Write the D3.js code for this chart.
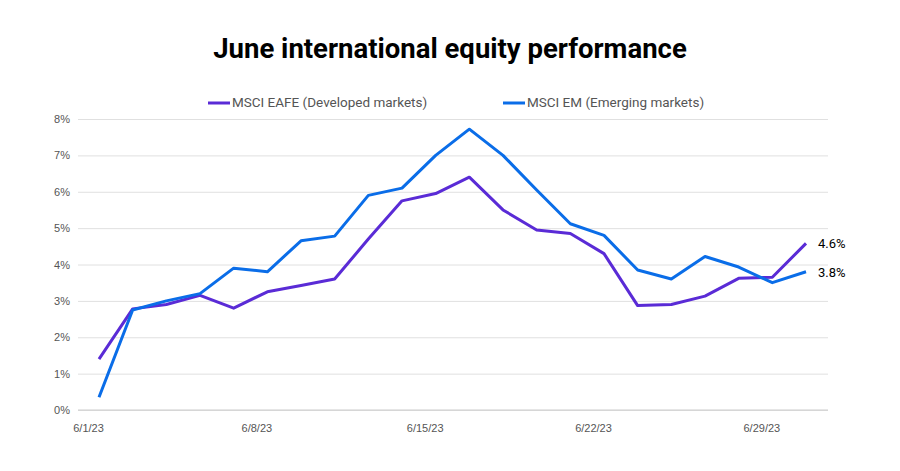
<!DOCTYPE html><html><head><meta charset="utf-8">
<script src="https://cdn.jsdelivr.net/npm/d3@7"></script>
<style>body{margin:0;background:#fff;font-family:Roboto,"Liberation Sans",sans-serif}</style></head><body>
<svg id="c" width="900" height="471"></svg>
<script>
const tickLabels=["6/1/23","6/8/23","6/15/23","6/22/23","6/29/23"];
const eafe=[1.4,2.78,2.9,3.15,2.8,3.25,3.42,3.6,4.7,5.75,5.95,6.4,5.5,4.95,4.85,4.3,2.87,2.9,3.13,3.62,3.65,4.58];
const em=[0.35,2.75,3.0,3.2,3.9,3.8,4.65,4.78,5.9,6.1,7.0,7.72,7.0,6.05,5.12,4.8,3.85,3.6,4.22,3.93,3.5,3.8];
const yTicks=[0,1,2,3,4,5,6,7,8];
const svg=d3.select("#c");
const x=d3.scaleLinear().domain([0,21]).range([99,806]);
const y=d3.scaleLinear().domain([0,8]).range([410,119]);
svg.append("text").attr("x",450).attr("y",58).attr("text-anchor","middle").attr("font-size",27.5).attr("font-weight","bold").attr("fill","#000").text("June international equity performance");
const gy=svg.append("g").attr("transform","translate(78,0)").call(d3.axisLeft(y).tickValues(yTicks).tickSize(-750).tickFormat(d=>d+"%"));
gy.select(".domain").remove();
gy.selectAll("line").attr("stroke","#e0e0e0");
gy.selectAll("text").attr("font-size",11).attr("fill","#555").attr("x",-8);
const gx=svg.append("g").attr("transform","translate(0,410)").call(d3.axisBottom(x).tickValues([0,5,10,15,20]).tickSize(0).tickFormat((d,i)=>tickLabels[i]));
gx.select(".domain").attr("d","M78,0H828").attr("stroke","#ccc");
gx.selectAll("text").attr("font-size",11).attr("fill","#555").attr("dy","1.75em").attr("dx",-11);
const line=d3.line().x((d,i)=>x(i)).y(d=>y(d));
const cols=["#5a2bd6","#0a6de8"];
[eafe,em].forEach((s,k)=>svg.append("path").datum(s).attr("d",line).attr("fill","none").attr("stroke",cols[k]).attr("stroke-width",3).attr("stroke-linejoin","round"));
svg.append("text").attr("x",818).attr("y",y(eafe[21])+5).attr("font-size",13).text(eafe[21].toFixed(1)+"%");
svg.append("text").attr("x",818).attr("y",y(em[21])+5).attr("font-size",13).text(em[21].toFixed(1)+"%");
const leg=[["MSCI EAFE (Developed markets)",208],["MSCI EM (Emerging markets)",503]];
leg.forEach((l,k)=>{svg.append("line").attr("x1",l[1]).attr("x2",l[1]+22).attr("y1",103).attr("y2",103).attr("stroke",cols[k]).attr("stroke-width",3);
svg.append("text").attr("x",l[1]+24).attr("y",107).attr("font-size",13.5).attr("fill","#555").text(l[0]);});
</script></body></html>
